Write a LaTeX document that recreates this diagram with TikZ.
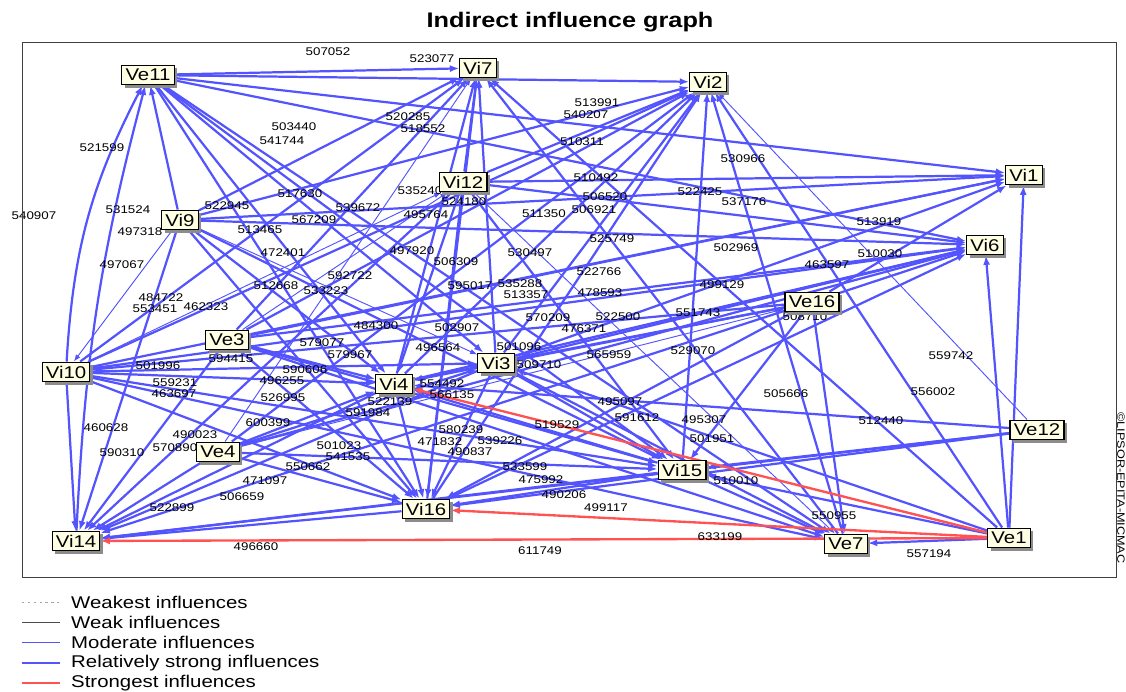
\documentclass[tikz,border=0pt]{standalone}
\usepackage{fontspec}
\setmainfont{Liberation Sans}[FakeStretch=1.2]
\usetikzlibrary{arrows.meta}
\usetikzlibrary{shadows}
\usetikzlibrary{backgrounds}
\definecolor{infblue}{RGB}{84,84,255}
\definecolor{infred}{RGB}{255,82,82}
\definecolor{boxfill}{RGB}{255,255,228}

\begin{document}
\begin{tikzpicture}[x=0.03cm,y=-0.03cm,
	var/.style={draw=black,line width=0.9pt,fill=boxfill,inner xsep=3.2pt,inner ysep=1pt,
		minimum height=17pt,font=\fontsize{14.5}{15}\selectfont,
		drop shadow={shadow xshift=2.5pt,shadow yshift=-2.5pt,fill=black!45,opacity=1}},
	lbl/.style={font=\fontsize{9.5}{10}\selectfont,inner sep=0pt},
	legtext/.style={font=\fontsize{14.5}{15}\selectfont,anchor=west,inner sep=0pt},
	strong/.style={draw=infblue,line width=1.9pt,-{Latex[length=8pt,width=6pt]}},
	moder/.style={draw=infblue,line width=0.8pt,-{Latex[length=6pt,width=4.5pt]}},
	strongest/.style={draw=infred,line width=2pt,-{Latex[length=8pt,width=6pt]}}]
\useasboundingbox (0,0) rectangle (1126,691);
\node[font=\bfseries\fontsize{18}{18}\selectfont] (title) at (570,22) {Indirect influence graph};
\draw[line width=0.8pt,black!75] (22,42) rectangle (1116,577);
% variables
\node[var] (Ve11) at (148,75) {Ve11};
\node[var] (Vi7) at (478,68) {Vi7};
\node[var] (Vi2) at (708,82) {Vi2};
\node[var] (Vi1) at (1024,175) {Vi1};
\node[var] (Vi12) at (463,182) {Vi12};
\node[var] (Vi9) at (180,220) {Vi9};
\node[var] (Vi6) at (985,245) {Vi6};
\node[var] (Ve16) at (812,302) {Ve16};
\node[var] (Ve3) at (227,340) {Ve3};
\node[var] (Vi10) at (66,372) {Vi10};
\node[var] (Vi3) at (496,363) {Vi3};
\node[var] (Vi4) at (394,384) {Vi4};
\node[var] (Ve12) at (1037,430) {Ve12};
\node[var] (Ve4) at (218,452) {Ve4};
\node[var] (Vi15) at (682,470) {Vi15};
\node[var] (Vi16) at (426,509) {Vi16};
\node[var] (Vi14) at (76,541) {Vi14};
\node[var] (Ve7) at (846,544) {Ve7};
\node[var] (Ve1) at (1009,538) {Ve1};
\node[lbl,rotate=-90,font=\fontsize{9}{9}\selectfont] (credit) at (1121,488) {©LIPSOR-EPITA-MICMAC};
\begin{scope}[on background layer]
\fill[white] (0,0) rectangle (1126,691);
% relatively strong influences
\foreach \a/\b in {Ve11/Vi7,Ve11/Vi2,Ve11/Vi1,Ve11/Vi6,Ve11/Vi4,Ve11/Vi16,Ve11/Vi15,Ve11/Vi3,Ve11/Ve7,
	Vi10/Vi7,Vi10/Vi2,Vi10/Vi6,Vi10/Vi4,Vi10/Vi16,Vi10/Vi14,Vi10/Vi15,Vi10/Ve7,Vi10/Vi3,Vi10/Vi1,
	Vi9/Vi7,Vi9/Vi2,Vi9/Vi1,Vi9/Vi6,Vi9/Vi4,Vi9/Vi16,Vi9/Vi14,Vi9/Vi15,Vi9/Ve11,
	Vi12/Vi7,Vi12/Vi2,Vi12/Vi1,Vi12/Vi6,Vi12/Vi16,Vi12/Vi4,Vi12/Vi14,Vi12/Vi15,
	Ve3/Vi7,Ve3/Vi2,Ve3/Vi1,Ve3/Vi6,Ve3/Vi4,Ve3/Vi16,Ve3/Vi14,Ve3/Vi15,Ve3/Ve7,
	Vi3/Vi7,Vi3/Vi2,Vi3/Vi1,Vi3/Vi6,Vi3/Vi4,Vi3/Vi16,Vi3/Vi14,Vi3/Vi15,Vi3/Ve7,
	Vi4/Vi7,Vi4/Vi2,Vi4/Vi16,Vi4/Vi14,Vi4/Vi6,
	Ve4/Vi6,Ve4/Vi4,Ve4/Vi16,Ve4/Vi14,Ve4/Vi15,Ve4/Vi3,Ve4/Vi2,
	Ve16/Vi6,Ve16/Vi1,Ve16/Vi4,Ve16/Vi3,Ve16/Vi16,Ve16/Vi14,Ve16/Vi15,Ve16/Ve7,Ve16/Vi10,
	Vi16/Vi7,Vi16/Vi2,Vi16/Vi14,Vi16/Vi6,
	Vi15/Vi2,Vi15/Vi14,Vi15/Vi16,Vi15/Ve7,Vi15/Vi4,
	Ve12/Vi14,Ve12/Vi16,Ve12/Vi15,Ve12/Vi4,
	Ve1/Vi1,Ve1/Vi6,Ve1/Vi2,Ve1/Vi7,Ve1/Vi15,Ve1/Ve7,Ve1/Vi3,
	Ve7/Vi2,Ve7/Vi7}
	\draw[strong] (\a) -- (\b);
\draw[strong] (Vi10) to[bend left=12] (Ve11);
\draw[strong] (Vi14) to[bend left=6] (Ve11);
% moderate influences
\foreach \a/\b in {Ve12/Vi2,Ve4/Vi7,Vi9/Vi10,Vi12/Ve7,Vi10/Vi12,Ve3/Vi12,Ve4/Ve16,Vi9/Vi3}
	\draw[moder] (\a) -- (\b);
% strongest influences
\foreach \a/\b in {Ve1/Vi4,Ve1/Vi16,Ve1/Vi14}
	\draw[strongest] (\a) -- (\b);
% influence values
\foreach \t/\x/\y in {507052/328/52,523077/432/59,503440/294/127,541744/282/141,521599/102/148,
	520285/408/117,518552/423/129,513991/597/103,540207/586/115,510311/582/142,530966/743/159,
	510492/596/178,506520/605/197,522425/700/192,537176/744/202,513919/879/222,510030/880/254,
	463597/827/265,502969/736/248,499129/722/285,525749/612/239,522766/599/272,478593/600/293,
	551743/698/313,522500/618/317,570209/548/318,476371/584/329,529070/693/351,565959/609/355,
	509710/539/365,501096/519/347,496564/438/348,502907/457/328,484300/376/326,530497/530/253,
	497920/412/251,506309/456/262,595017/470/286,535288/520/284,513357/526/295,592722/350/276,
	512668/276/286,533223/326/291,472401/283/253,513465/260/230,567209/314/220,517630/300/194,
	539672/358/208,522945/227/206,531524/128/210,540907/34/216,497067/122/265,484722/161/298,
	553451/155/309,462323/206/307,495764/426/215,535240/420/191,524180/464/202,511350/544/214,
	506921/594/210,579077/322/343,579967/350/355,590606/305/370,496255/282/381,594415/231/359,
	501996/158/366,559231/175/383,463697/174/394,526995/283/398,522139/390/402,591984/368/413,
	600399/268/423,554492/442/384,566135/452/395,495097/620/402,591612/637/418,495307/704/420,
	501951/712/439,505666/786/394,512440/881/421,556002/933/392,559742/951/356,519529/557/425,
	580239/461/430,471832/440/442,490837/470/452,539226/500/441,533599/525/467,475992/541/480,
	490206/564/495,499117/606/508,510010/736/481,550955/834/516,633199/720/537,557194/929/554,
	611749/540/551,496660/256/547,522899/172/508,506659/242/497,471097/265/481,501023/339/446,
	550662/308/467,541535/348/457,490023/195/435,570890/175/448,460628/106/428,590310/122/453,
	497318/140/232,508710/805/317}
	\node[lbl] (w\t) at (\x,\y) {\t};
\end{scope}
% legend
\draw[black!35,line width=0.6pt,dash pattern=on 2pt off 3pt] (22,602) -- (60,602);
\draw[black!70,line width=0.7pt] (22,622) -- (60,622);
\draw[infblue,line width=0.8pt] (22,642) -- (60,642);
\draw[infblue,line width=2pt] (22,663) -- (60,663);
\draw[infred,line width=2pt] (22,683) -- (60,683);
\node[legtext] (leg1) at (71,602) {Weakest influences};
\node[legtext] (leg2) at (71,622) {Weak influences};
\node[legtext] (leg3) at (71,642) {Moderate influences};
\node[legtext] (leg4) at (71,663) {Relatively strong influences};
\node[legtext] (leg5) at (71,683) {Strongest influences};
\end{tikzpicture}
\end{document}
